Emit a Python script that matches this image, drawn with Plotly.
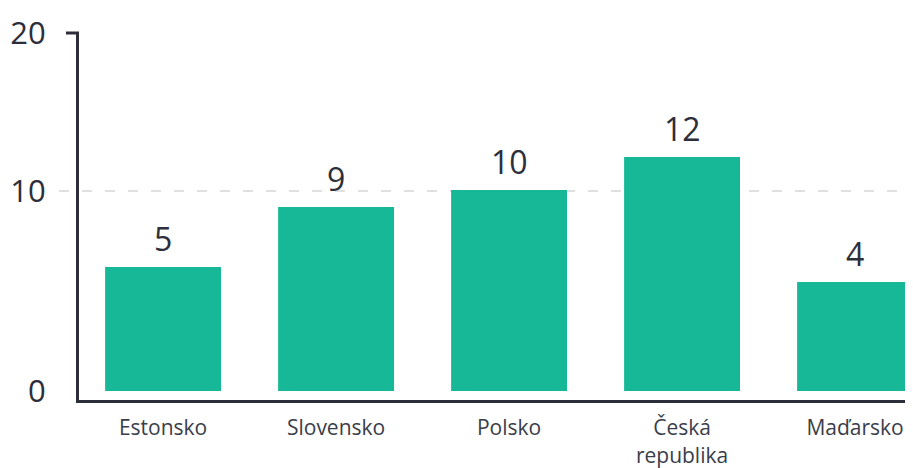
import plotly.graph_objects as go

categories = ["Estonsko", "Slovensko", "Polsko", "Česká<br>republika", "Maďarsko"]
values = [6.2, 9.2, 10.05, 11.7, 5.45]
value_labels = ["5", "9", "10", "12", "4"]
y_tick_vals = [0, 10, 17.9]
y_tick_text = ["0", "10", "20"]
grid_value = 10

bar_color = "#17b897"
dark = "#2c2f3b"
font_family = "Open Sans, Lato, sans-serif"

fig = go.Figure()
fig.add_trace(go.Bar(
    x=list(range(len(categories))), y=values, width=0.67,
    marker=dict(color=bar_color, line=dict(width=0)),
    hoverinfo="skip",
))

for i, (v, t) in enumerate(zip(values, value_labels)):
    fig.add_annotation(x=i, y=v, text=t, showarrow=False, yanchor="bottom",
                       yshift=5, font=dict(size=32, color=dark, family=font_family))

# dashed gridline at 10
fig.add_shape(type="line", xref="paper", yref="y", x0=-20/834, x1=1,
              y0=grid_value, y1=grid_value,
              line=dict(color="#d6d6d6", width=1.5, dash="10px,13px"), layer="below")
# top tick
fig.add_shape(type="line", xref="paper", yref="paper", x0=-13/834, x1=0,
              y0=1, y1=1, line=dict(color=dark, width=3))

fig.update_layout(
    width=905, height=460,
    margin=dict(l=71, r=0, t=25, b=68),
    paper_bgcolor="white", plot_bgcolor="white",
    showlegend=False,
    xaxis=dict(
        tickvals=list(range(len(categories))), ticktext=categories,
        range=[-0.486, 4.335], showgrid=False, zeroline=False,
        showline=True, linecolor=dark, linewidth=3, ticks="",
        tickfont=dict(size=21, color="#3a3d4a", family=font_family),
        ticklabelstandoff=7, automargin=False,
    ),
    yaxis=dict(
        range=[-0.45, 17.9], tickvals=y_tick_vals, ticktext=y_tick_text,
        showgrid=False, zeroline=False, showline=True, linecolor=dark,
        linewidth=3, ticks="",
        tickfont=dict(size=31, color=dark, family=font_family),
        ticklabelstandoff=24, automargin=False,
    ),
)

fig.write_html("out.html")
